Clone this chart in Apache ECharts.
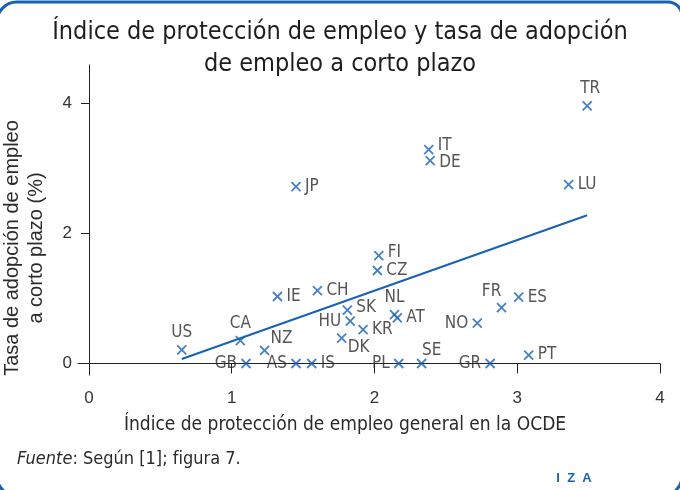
<html lang="es">
<head>
  <meta charset="UTF-8">
  <title>Índice de protección de empleo</title>
  <style>
    html, body { margin: 0; padding: 0; background: #fff; }
    #chart { width: 680px; height: 490px; }
  </style>
</head>
<body>
  <div id="chart"></div>
  <script src="https://cdn.jsdelivr.net/npm/echarts@6/dist/echarts.min.js"></script>
  <script>
    var countries = ['US', 'CA', 'GB', 'NZ', 'AS', 'IS', 'IE', 'CH', 'JP', 'FI', 'CZ', 'SK', 'HU', 'KR',
      'DK', 'NL', 'AT', 'PL', 'SE', 'IT', 'DE', 'TR', 'LU', 'FR', 'ES', 'NO', 'GR', 'PT']
    var epIndex = [0.65, 1.06, 1.10, 1.23, 1.45, 1.56, 1.32, 1.60, 1.45, 2.03, 2.02, 1.81, 1.83, 1.92,
      1.77, 2.14, 2.16, 2.17, 2.33, 2.38, 2.39, 3.49, 3.36, 2.89, 3.01, 2.72, 2.81, 3.08]
    var adoptionRate = [0.21, 0.35, 0.0, 0.2, 0.0, 0.0, 1.03, 1.12, 2.72, 1.66, 1.43, 0.82, 0.65, 0.52,
      0.39, 0.75, 0.70, 0.0, 0.0, 3.29, 3.12, 3.96, 2.75, 0.86, 1.02, 0.62, 0.0, 0.13]
    // fitted line at both ends
    var fitX = [0.65, 3.49]
    var fitY = [0.07, 2.28]
    var xTicks = [0, 1, 2, 3, 4]
    var yTicks = [0, 2, 4]

    var blue = '#1762b4'
    var narrow = '"Liberation Sans Narrow", "DejaVu Sans Condensed", sans-serif'

    // where each country code sits next to its marker
    var labelPlace = {
      US: ['top', 0, 0], CA: ['top', 0, 0], GB: ['left', 0, 0], NZ: ['right', -3, -12],
      AS: ['left', 0, 0], IS: ['right', 0, 0], IE: ['right', 0, 0], CH: ['right', 0, 0],
      JP: ['right', 0, 0], FI: ['right', 0, -3], CZ: ['right', 0, 0], SK: ['right', 0, -3],
      HU: ['left', 0, 0], KR: ['right', 0, 0], DK: ['right', -3, 9], NL: ['top', 0, 0],
      AT: ['right', 0, 0], PL: ['left', 0, 0], SE: ['top', 10, 5], IT: ['right', 0, -4],
      DE: ['right', 0, 2], TR: ['top', 3, 0], LU: ['right', 0, 0], FR: ['top', -10, 2],
      ES: ['right', 0, 0], NO: ['left', 0, 0], GR: ['left', 0, 0], PT: ['right', 0, 0]
    }

    var points = countries.map(function (c, i) {
      var p = labelPlace[c]
      return {
        name: c,
        value: [epIndex[i], adoptionRate[i]],
        label: { position: p[0], offset: [p[1], p[2]] }
      }
    })

    var option = {
      animation: false,
      backgroundColor: '#fff',
      textStyle: { fontFamily: narrow },
      title: {
        text: 'Índice de protección de empleo y tasa de adopción\nde empleo a corto plazo',
        left: 'center',
        top: 11,
        textStyle: { fontFamily: narrow, fontSize: 25, fontWeight: 'normal', color: '#1e1e1e', lineHeight: 32 }
      },
      grid: { left: 78, right: 20, top: 65, bottom: 115 },
      xAxis: {
        type: 'value',
        min: -0.077,
        max: 4,
        axisLine: { lineStyle: { color: '#222', width: 1 } },
        axisTick: { show: true, length: 10, customValues: xTicks, lineStyle: { color: '#222' } },
        axisLabel: { customValues: xTicks, fontFamily: 'Liberation Sans', fontSize: 17, color: '#333', margin: 15 },
        splitLine: { show: false }
      },
      yAxis: {
        type: 'value',
        min: -0.177,
        max: 4.59,
        axisLine: { show: true, lineStyle: { color: '#222', width: 1 } },
        axisTick: { show: true, length: 8, customValues: yTicks, lineStyle: { color: '#222' } },
        axisLabel: { customValues: yTicks, fontFamily: 'Liberation Sans', fontSize: 17, color: '#333', margin: 6 },
        splitLine: { show: false }
      },
      series: [
        {
          type: 'scatter',
          symbol: 'path://M0,0L10,10M10,0L0,10',
          symbolSize: 9,
          itemStyle: { color: 'none', borderColor: blue, borderWidth: 1.8 },
          label: {
            show: true,
            formatter: '{b}',
            distance: 2,
            fontFamily: narrow,
            fontSize: 17,
            color: '#2a2a2a'
          },
          data: points,
          z: 3
        },
        {
          type: 'line',
          data: [[fitX[0], fitY[0]], [fitX[1], fitY[1]]],
          symbol: 'none',
          lineStyle: { color: blue, width: 2 },
          z: 2
        }
      ],
      graphic: [
        {
          type: 'rect',
          shape: { x: -3, y: 2, width: 685, height: 494, r: [20, 14, 20, 20] },
          style: { fill: 'none', stroke: blue, lineWidth: 3 },
          silent: true
        },
        {
          type: 'text',
          x: 24,
          y: 248,
          rotation: Math.PI / 2,
          style: {
            text: 'Tasa de adopción de empleo\na corto plazo (%)',
            fontFamily: 'Liberation Sans',
            fontSize: 20,
            lineHeight: 24,
            fill: '#2a2a2a',
            align: 'center',
            verticalAlign: 'middle'
          }
        },
        {
          type: 'text',
          x: 345,
          y: 425,
          style: {
            text: 'Índice de protección de empleo general en la OCDE',
            fontFamily: narrow,
            fontSize: 19,
            fill: '#2a2a2a',
            align: 'center',
            verticalAlign: 'middle'
          }
        },
        {
          type: 'text',
          x: 17,
          y: 459,
          style: {
            text: '{i|Fuente}: Según [1]; figura 7.',
            fontFamily: narrow,
            fontSize: 18,
            fill: '#2a2a2a',
            verticalAlign: 'middle',
            rich: {
              i: { fontFamily: narrow, fontSize: 18, fontStyle: 'italic', fill: '#2a2a2a' }
            }
          }
        },
        {
          type: 'text',
          x: 574,
          y: 478,
          style: {
            text: 'I  Z  A',
            fontFamily: 'Liberation Sans',
            fontSize: 13,
            fontWeight: 'bold',
            fill: blue,
            align: 'center',
            verticalAlign: 'middle'
          }
        }
      ]
    }

    var chart = echarts.init(document.getElementById('chart'))
    chart.setOption(option)
  </script>
</body>
</html>
